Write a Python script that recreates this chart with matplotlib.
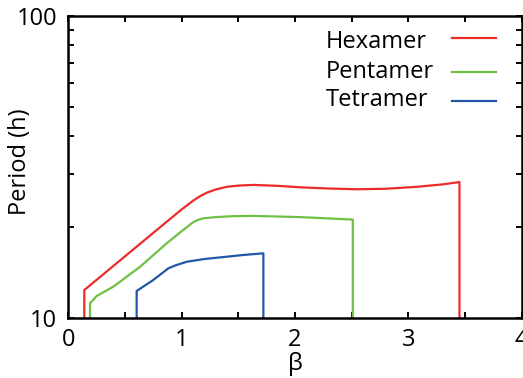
import matplotlib.pyplot as plt
from matplotlib.ticker import LogLocator, NullFormatter, MultipleLocator, FixedLocator, FixedFormatter

plt.rcParams['font.family'] = ['Open Sans', 'DejaVu Sans']

# period (h) vs beta
hex_beta = [0.141, 0.141, 0.574, 0.868, 1.0, 1.103, 1.16, 1.221, 1.3, 1.398, 1.5, 1.633, 1.85,
            2.045, 2.3, 2.545, 2.8, 3.075, 3.3, 3.451, 3.451]
hex_period = [10.0, 12.4, 16.9, 20.85, 22.9, 24.5, 25.3, 26.0, 26.65, 27.2, 27.45, 27.6, 27.4,
              27.1, 26.85, 26.7, 26.8, 27.2, 27.7, 28.2, 10.0]

pent_beta = [0.1915, 0.1915, 0.25, 0.397, 0.633, 0.868, 1.0, 1.103, 1.15, 1.192, 1.3, 1.45,
             1.633, 2.045, 2.51, 2.51]
pent_period = [10.0, 11.2, 11.85, 12.72, 14.8, 17.7, 19.4, 20.8, 21.2, 21.4, 21.6, 21.75,
               21.8, 21.6, 21.2, 10.0]

tet_beta = [0.603, 0.603, 0.75, 0.883, 0.95, 1.045, 1.2, 1.398, 1.55, 1.721, 1.721]
tet_period = [10.0, 12.31, 13.39, 14.63, 14.98, 15.38, 15.7, 15.98, 16.2, 16.4, 10.0]

labels = ['Hexamer', 'Pentamer', 'Tetramer']
colors = ['#ee2b2b', '#70c044', '#2157a6']

fig = plt.figure(figsize=(5.23, 3.78), dpi=100)
ax = fig.add_axes([0.1306, 0.1579, 0.8669, 0.8005])

series = [(hex_beta, hex_period), (pent_beta, pent_period), (tet_beta, tet_period)]
for (b, p), c in zip(series, colors):
    ax.plot(b, p, color=c, lw=1.6)

ax.set_yscale('log')
ax.set_xlim(0, 4)
ax.set_ylim(10, 100)
ax.xaxis.set_major_locator(MultipleLocator(1))
ax.xaxis.set_minor_locator(MultipleLocator(0.5))
ax.yaxis.set_major_locator(FixedLocator([10, 100]))
ax.yaxis.set_major_formatter(FixedFormatter(['10', '100']))
ax.yaxis.set_minor_locator(LogLocator(base=10, subs=range(2, 10)))
ax.yaxis.set_minor_formatter(NullFormatter())
ax.tick_params(which='both', direction='in', top=True, right=True, width=1.4, labelsize=17,
               length=4.5)
ax.tick_params(axis='x', pad=7)
ax.tick_params(axis='y', pad=8)
for s in ax.spines.values():
    s.set_linewidth(1.8)

ax.set_xlabel('β', fontsize=17, labelpad=0)
ax.set_ylabel('Period (h)', fontsize=17)
ax.yaxis.set_label_coords(-0.079, 0.516)

# legend: left-aligned text with the line sample to the right
text_y = [0.913, 0.815, 0.72]
line_y = [0.925, 0.815, 0.7186]
for lab, c, ty, ly in zip(labels, colors, text_y, line_y):
    ax.text(0.568, ty, lab, transform=ax.transAxes, fontsize=17, va='center', ha='left')
    ax.plot([0.8456, 0.9427], [ly, ly], transform=ax.transAxes, color=c, lw=1.6)

fig.savefig('out.png')
